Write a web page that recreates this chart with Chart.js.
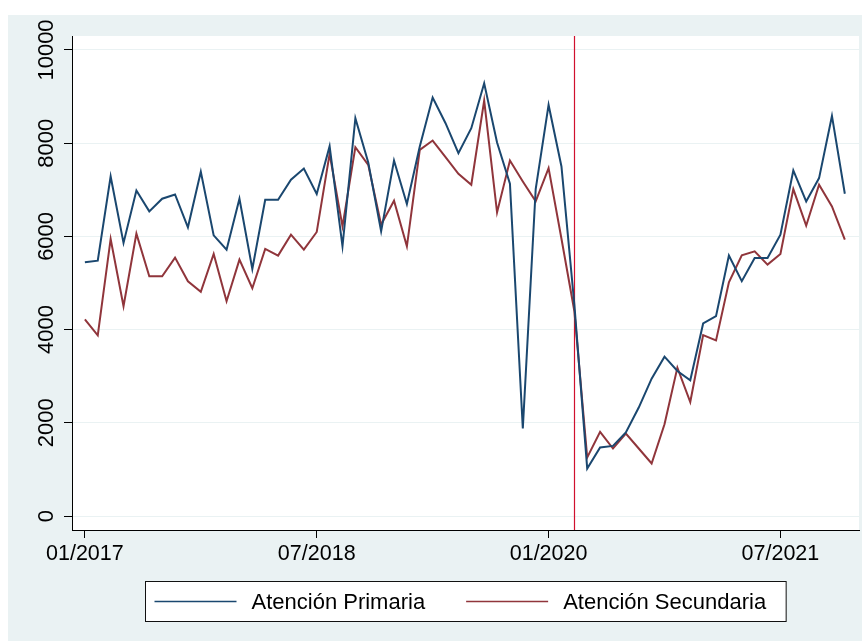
<!DOCTYPE html>
<html>
<head>
<meta charset="utf-8">
<script src="https://cdn.jsdelivr.net/npm/chart.js@4.4.1/dist/chart.umd.min.js"></script>
<style>
html,body{margin:0;padding:0;background:#fff;}
</style>
</head>
<body>
<canvas id="myChart" width="862" height="641"></canvas>
<script>
// datos mensuales 01/2017 - 12/2021
var primaria = [5445, 5480, 7286, 5860, 6986, 6537, 6808, 6900, 6195, 7386, 6023, 5716,
                6808, 5303, 6787, 6787, 7215, 7457, 6909, 7935, 5787, 8536, 7586, 6109,
                7629, 6694, 7928, 8978, 8429, 7787, 8322, 9285, 8014, 7130, 1877, 7016,
                8821, 7500, 4540, 1020, 1470, 1505, 1792, 2327, 2948, 3419, 3111, 2912,
                4132, 4289, 5588, 5038, 5538, 5538, 6037, 7415, 6751, 7251, 8585, 6915];
var secundaria = [4218, 3875, 5945, 4503, 6059, 5145, 5145, 5545, 5038, 4811, 5624, 4610,
                  5502, 4888, 5731, 5588, 6037, 5716, 6095, 7770, 6216, 7915, 7536, 6252,
                  6766, 5787, 7857, 8057, 7701, 7344, 7108, 8913, 6515, 7629, 7180, 6751,
                  7465, 5950, 4400, 1256, 1805, 1449, 1770, 1449, 1128, 1970, 3184, 2447,
                  3882, 3768, 5016, 5595, 5680, 5395, 5624, 7016, 6230, 7108, 6644, 5930];
var meses = [];
for (var a = 2017; a <= 2021; a++) {
    for (var m = 1; m <= 12; m++) meses.push((m < 10 ? '0' : '') + m + '/' + a);
}
var tickMeses = ['01/2017', '07/2018', '01/2020', '07/2021'];
var tickY = [0, 2000, 4000, 6000, 8000, 10000];
var corte = '03/2020';

var fuente = "'Liberation Sans', Arial, sans-serif";
var azul = '#1A476F';
var rojo = '#90353B';

function puntos(serie) {
    return serie.map(function (v, i) { return {x: i, y: v}; });
}

var fondo = {
    id: 'fondo',
    beforeDraw: function (chart) {
        var c = chart.ctx, ca = chart.chartArea;
        c.save();
        c.fillStyle = '#ffffff';
        c.fillRect(0, 0, chart.width, chart.height);
        c.fillStyle = '#EAF2F3';
        c.fillRect(8, 15, chart.width - 8, chart.height - 15);
        c.fillStyle = '#ffffff';
        c.fillRect(ca.left, ca.top, ca.right - ca.left, ca.bottom - ca.top);
        c.restore();
    }
};

var lineaCorte = {
    id: 'lineaCorte',
    beforeDatasetsDraw: function (chart) {
        var c = chart.ctx, ca = chart.chartArea;
        var x = Math.round(chart.scales.x.getPixelForValue(meses.indexOf(corte))) + 0.5;
        c.save();
        c.strokeStyle = '#D0102E';
        c.lineWidth = 1.2;
        c.beginPath();
        c.moveTo(x, ca.top);
        c.lineTo(x, ca.bottom);
        c.stroke();
        c.restore();
    }
};

var etiquetasY = {
    id: 'etiquetasY',
    afterDraw: function (chart) {
        var c = chart.ctx, s = chart.scales.y;
        c.save();
        c.fillStyle = '#000';
        c.font = '22px ' + fuente;
        c.textAlign = 'center';
        c.textBaseline = 'alphabetic';
        s.ticks.forEach(function (t) {
            var y = s.getPixelForValue(t.value);
            c.save();
            c.translate(53, y);
            c.rotate(-Math.PI / 2);
            c.fillText(String(t.value), 0, 0);
            c.restore();
        });
        c.restore();
    }
};

var leyenda = {
    id: 'leyenda',
    afterDraw: function (chart) {
        var c = chart.ctx, ca = chart.chartArea;
        c.save();
        c.font = '22px ' + fuente;
        var ds = chart.data.datasets;
        var w1 = c.measureText(ds[0].label).width;
        var w2 = c.measureText(ds[1].label).width;
        var total = 9 + 82 + 15 + w1 + 41 + 82 + 15 + w2 + 20;
        var left = Math.round((ca.left + ca.right) / 2 - total / 2) + 0.5;
        var top = 581.5, h = 40, yc = top + h / 2;
        c.strokeStyle = '#111';
        c.lineWidth = 1;
        c.fillStyle = '#fff';
        c.fillRect(left, top, total, h);
        c.strokeRect(left, top, total, h);
        var x = left + 9;
        [[ds[0], w1], [ds[1], w2]].forEach(function (it) {
            c.strokeStyle = it[0].borderColor;
            c.lineWidth = 1.5;
            c.beginPath();
            c.moveTo(x, yc);
            c.lineTo(x + 82, yc);
            c.stroke();
            x += 82 + 15;
            c.fillStyle = '#000';
            c.textAlign = 'left';
            c.textBaseline = 'middle';
            c.fillText(it[0].label, x, yc + 1);
            x += it[1] + 41;
        });
        c.restore();
    }
};

var ctx = document.getElementById('myChart').getContext('2d');
var myChart = new Chart(ctx, {
    type: 'line',
    data: {
        datasets: [
            {
                label: 'Atención Primaria',
                data: puntos(primaria),
                borderColor: azul,
                backgroundColor: azul,
                borderWidth: 2,
                pointRadius: 0,
                tension: 0
            },
            {
                label: 'Atención Secundaria',
                data: puntos(secundaria),
                borderColor: rojo,
                backgroundColor: rojo,
                borderWidth: 2,
                pointRadius: 0,
                tension: 0
            }
        ]
    },
    options: {
        responsive: false,
        animation: false,
        devicePixelRatio: 1,
        layout: { padding: { left: 8, top: 36, right: 3, bottom: 0 } },
        plugins: {
            legend: { display: false },
            tooltip: { enabled: false }
        },
        scales: {
            x: {
                type: 'linear',
                min: -1,
                max: 60.1,
                afterBuildTicks: function (scale) {
                    scale.ticks = tickMeses.map(function (t) { return {value: meses.indexOf(t)}; });
                },
                afterFit: function (scale) { scale.height = 111; },
                border: { color: '#000', width: 1 },
                grid: { drawOnChartArea: false, drawTicks: true, tickLength: 8, tickColor: '#000' },
                ticks: {
                    autoSkip: false,
                    maxRotation: 0,
                    padding: 3,
                    color: '#000',
                    font: { family: fuente, size: 21.5 },
                    callback: function (v) { return meses[v]; }
                }
            },
            y: {
                min: -300,
                max: 10300,
                afterBuildTicks: function (scale) {
                    scale.ticks = tickY.map(function (v) { return {value: v}; });
                },
                afterFit: function (scale) { scale.width = 64; },
                border: { color: '#000', width: 1 },
                grid: { color: '#EAF2F3', lineWidth: 1, drawTicks: true, tickLength: 8, tickColor: '#000' },
                ticks: { display: false }
            }
        }
    },
    plugins: [fondo, lineaCorte, etiquetasY, leyenda]
});
</script>
</body>
</html>
